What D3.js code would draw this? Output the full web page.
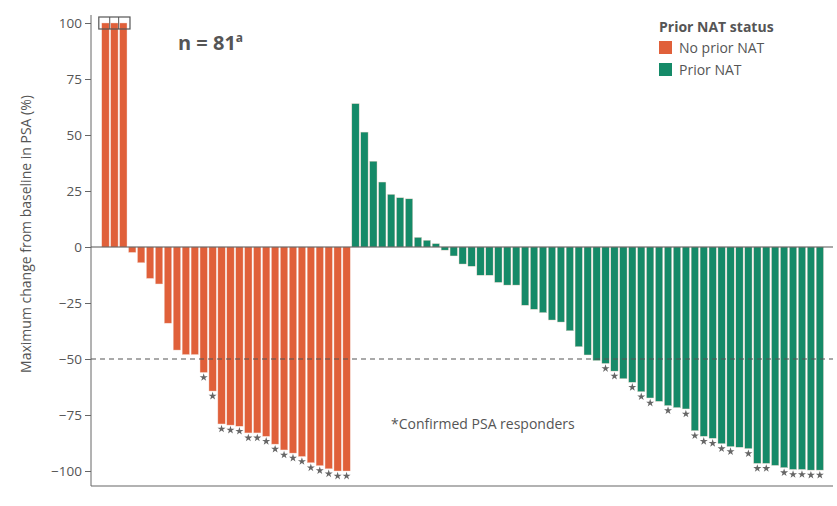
<!DOCTYPE html>
<html>
<head>
<meta charset="utf-8">
<script src="https://cdn.jsdelivr.net/npm/d3@7"></script>
<style>
    body { margin: 0; background: #fff; }
    text { font-family: "Open Sans", "DejaVu Sans", sans-serif; }
</style>
</head>
<body>
<div id="chart"></div>
<script>
// Prior NAT status groups
const groups = ["No prior NAT", "Prior NAT"];
const groupColors = ["#E0603A", "#158A68"];

// max change from baseline in PSA (%), sorted within group
const noPriorValues = [100, 100, 100, -2.4, -7, -14, -16.5, -34, -46, -48, -48, -56, -64.3,
    -79, -79.5, -80, -83, -83, -84.5, -88, -90.6, -92, -93.5, -96.3, -97.6, -99, -100, -100];
const noPriorResponder = [0, 0, 0, 0, 0, 0, 0, 0, 0, 0, 0, 1, 1,
    1, 1, 1, 1, 1, 1, 1, 1, 1, 1, 1, 1, 1, 1, 1];

const priorValues = [64, 51.3, 38.3, 29, 23.5, 22, 21.5, 4.3, 3, 1.5, -1.4, -4, -7.6, -8.6,
    -12.6, -12.6, -15.8, -17, -17, -26, -27.8, -29.3, -32.6, -33.5, -37.4, -44.5, -48.2, -50.7,
    -52, -55.4, -58.8, -60.4, -64.6, -67.4, -68.9, -70.8, -71.7, -72.3, -82, -84.5, -85.4,
    -87.8, -89.1, -89.4, -90, -96.6, -96.6, -97.5, -98.5, -99.3, -99.3, -99.6, -99.6];
const priorResponder = [0, 0, 0, 0, 0, 0, 0, 0, 0, 0, 0, 0, 0, 0,
    0, 0, 0, 0, 0, 0, 0, 0, 0, 0, 0, 0, 0, 0,
    1, 1, 0, 1, 1, 1, 0, 1, 0, 1, 1, 1, 1,
    1, 1, 0, 1, 1, 1, 0, 1, 1, 1, 1, 1];

const yTicks = [100, 75, 50, 25, 0, -25, -50, -75, -100];

const data = [];
noPriorValues.forEach((v, i) => data.push({ id: data.length, group: groups[0], value: v, responder: noPriorResponder[i] }));
priorValues.forEach((v, i) => data.push({ id: data.length, group: groups[1], value: v, responder: priorResponder[i] }));

const width = 837, height = 506;
const svg = d3.select("#chart").append("svg")
    .attr("width", width)
    .attr("height", height);

const x = d3.scaleBand()
    .domain(data.map(d => d.id))
    .range([101, 824.3])
    .paddingInner(0.18)
    .paddingOuter(0.09);

const y = d3.scaleLinear().domain([-100, 100]).range([471, 23]);

const color = d3.scaleOrdinal().domain(groups).range(groupColors);

const axisColor = "#666";

// y axis
const yAxis = svg.append("g")
    .attr("transform", "translate(91,0)")
    .call(d3.axisLeft(y).tickValues(yTicks).tickSize(6).tickFormat(d => d < 0 ? "\u2212" + Math.abs(d) : d));
yAxis.select(".domain").attr("stroke", axisColor).attr("d", `M0,${y(100) - 8}V486`);
yAxis.selectAll(".tick line").attr("stroke", axisColor);
yAxis.selectAll(".tick text")
    .attr("fill", "#555")
    .style("font-size", "13.5px")
    .attr("x", -9);

// bottom axis line
svg.append("line")
    .attr("x1", 91).attr("x2", 833)
    .attr("y1", 486).attr("y2", 486)
    .attr("stroke", axisColor)
    .attr("stroke-width", 1.2);

// y axis title
svg.append("text")
    .attr("transform", "rotate(-90)")
    .attr("x", -(y(0) - 13))
    .attr("y", 31)
    .attr("text-anchor", "middle")
    .attr("fill", "#555")
    .style("font-size", "14px")
    .text("Maximum change from baseline in PSA (%)");

// bars
svg.selectAll(".bar")
    .data(data)
    .enter().append("rect")
    .attr("class", "bar")
    .attr("x", d => x(d.id))
    .attr("width", x.bandwidth())
    .attr("y", d => y(Math.max(0, d.value)))
    .attr("height", d => Math.abs(y(d.value) - y(0)))
    .attr("fill", d => color(d.group))
    .attr("stroke", "#f3d6cc")
    .attr("stroke-width", 0.4);

// zero line
svg.append("line")
    .attr("x1", 91).attr("x2", 833)
    .attr("y1", y(0)).attr("y2", y(0))
    .attr("stroke", "#555")
    .attr("stroke-width", 1.2);

// -50% response threshold
svg.append("line")
    .attr("x1", 91).attr("x2", 833)
    .attr("y1", y(-50)).attr("y2", y(-50))
    .attr("stroke", "#555")
    .attr("stroke-width", 1.2)
    .attr("stroke-dasharray", "5,4");

// box around capped bars
const capped = data.filter(d => d.value >= 100);
svg.append("rect")
    .attr("x", x(capped[0].id) - 3)
    .attr("y", y(100) - 6)
    .attr("width", x(capped[capped.length - 1].id) + x.bandwidth() + 3 - (x(capped[0].id) - 3))
    .attr("height", 12)
    .attr("fill", "none")
    .attr("stroke", "#555")
    .attr("stroke-width", 1.2);
capped.forEach((d, i) => {
    if (i === 0) return;
    svg.append("line")
        .attr("x1", x(d.id) - 1).attr("x2", x(d.id) - 1)
        .attr("y1", y(100) - 6).attr("y2", y(100) + 6)
        .attr("stroke", "#555")
        .attr("stroke-width", 1);
});

// responder stars
svg.selectAll(".star")
    .data(data.filter(d => d.responder))
    .enter().append("path")
    .attr("class", "star")
    .attr("d", d3.symbol().type(d3.symbolStar).size(20))
    .attr("transform", d => `translate(${x(d.id) + x.bandwidth() / 2},${y(d.value) + 5})`)
    .attr("fill", "#666");

// n label
const nText = svg.append("text")
    .attr("x", 178)
    .attr("y", 50)
    .attr("fill", "#555")
    .style("font-size", "20px")
    .style("font-weight", "bold");
nText.append("tspan").text("n = 81");
nText.append("tspan")
    .attr("dy", -8)
    .style("font-size", "12px")
    .text("a");

// footnote
svg.append("text")
    .attr("x", 391)
    .attr("y", 429)
    .attr("fill", "#555")
    .style("font-size", "14px")
    .text("*Confirmed PSA responders");

// legend
const legend = svg.append("g").attr("transform", "translate(659, 0)");
legend.append("text")
    .attr("x", 0)
    .attr("y", 32)
    .attr("fill", "#555")
    .style("font-size", "14px")
    .style("font-weight", "bold")
    .text("Prior NAT status");

groups.forEach((g, i) => {
    const row = legend.append("g").attr("transform", `translate(0, ${41 + i * 22})`);
    row.append("rect")
        .attr("width", 13)
        .attr("height", 13)
        .attr("fill", color(g));
    row.append("text")
        .attr("x", 20)
        .attr("y", 11.5)
        .attr("fill", "#555")
        .style("font-size", "14px")
        .text(g);
});
</script>
</body>
</html>
